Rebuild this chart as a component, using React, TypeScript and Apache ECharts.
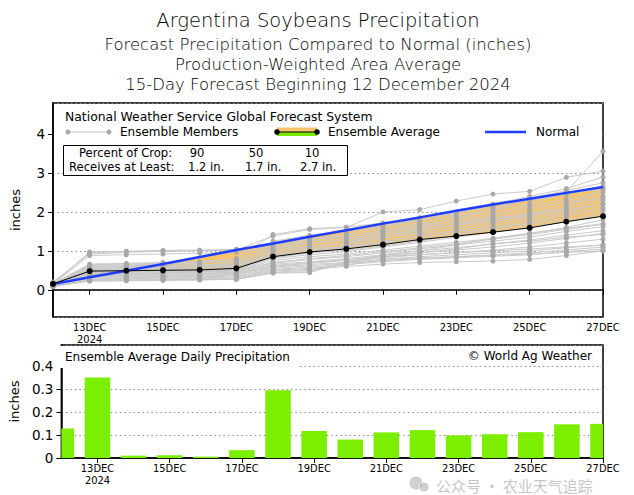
import React, { useEffect, useRef } from "react";
import * as echarts from "echarts";

// ---------- DATA ----------
const days = ["12DEC", "13DEC", "14DEC", "15DEC", "16DEC", "17DEC", "18DEC", "19DEC", "20DEC", "21DEC", "22DEC", "23DEC", "24DEC", "25DEC", "26DEC", "27DEC"];
const yearLabel = "2024";

// cumulative ensemble average (inches)
const ensembleAverage = [0.15, 0.48, 0.49, 0.5, 0.51, 0.55, 0.85, 0.97, 1.05, 1.16, 1.29, 1.38, 1.48, 1.59, 1.75, 1.89];
// cumulative normal (inches)
const normal = [0.15, 0.32, 0.49, 0.66, 0.84, 1.02, 1.19, 1.36, 1.53, 1.7, 1.86, 2.03, 2.19, 2.34, 2.49, 2.64];
// daily ensemble average precipitation (inches)
const dailyPrecip = [0.128, 0.349, 0.01, 0.012, 0.006, 0.034, 0.294, 0.117, 0.08, 0.111, 0.121, 0.098, 0.103, 0.112, 0.146, 0.148];

// ensemble members (cumulative inches)
const m01 = [0.18, 0.95, 0.98, 1.0, 1.01, 1.03, 1.2, 1.3, 1.38, 1.5, 1.62, 1.72, 1.85, 1.95, 2.1, 2.3];
const m02 = [0.2, 0.92, 0.96, 0.99, 1.0, 1.02, 1.38, 1.55, 1.6, 2.0, 2.06, 2.28, 2.46, 2.53, 2.89, 3.05];
const m03 = [0.15, 0.88, 0.9, 0.92, 0.94, 0.96, 1.05, 1.12, 1.2, 1.35, 1.45, 1.6, 1.75, 1.9, 2.1, 2.6];
const m04 = [0.16, 0.66, 0.68, 0.7, 0.72, 0.8, 1.42, 1.57, 1.61, 1.72, 1.85, 1.98, 2.12, 2.3, 2.45, 2.65];
const m05 = [0.14, 0.64, 0.66, 0.68, 0.7, 0.72, 1.1, 1.25, 1.35, 1.55, 1.7, 1.9, 2.05, 2.2, 2.52, 3.56];
const m06 = [0.12, 0.6, 0.62, 0.63, 0.64, 0.66, 1.0, 1.1, 1.2, 1.45, 1.6, 1.85, 2.05, 2.35, 2.55, 2.75];
const m07 = [0.13, 0.58, 0.6, 0.61, 0.62, 0.64, 0.95, 1.05, 1.12, 1.25, 1.38, 1.5, 1.62, 1.78, 1.95, 2.1];
const m08 = [0.15, 0.55, 0.57, 0.58, 0.6, 0.62, 0.9, 1.0, 1.1, 1.22, 1.4, 1.52, 1.7, 1.85, 2.0, 2.2];
const m09 = [0.12, 0.52, 0.53, 0.54, 0.55, 0.58, 0.88, 0.95, 1.02, 1.12, 1.25, 1.4, 1.55, 1.7, 1.8, 1.95];
const m10 = [0.14, 0.5, 0.51, 0.52, 0.53, 0.55, 0.85, 0.98, 1.08, 1.2, 1.32, 1.45, 1.58, 1.72, 1.88, 2.05];
const m11 = [0.11, 0.48, 0.49, 0.5, 0.51, 0.52, 0.8, 0.9, 0.98, 1.1, 1.22, 1.35, 1.48, 1.62, 1.75, 1.9];
const m12 = [0.1, 0.46, 0.47, 0.48, 0.49, 0.5, 0.75, 0.85, 0.92, 1.02, 1.12, 1.22, 1.32, 1.45, 1.58, 1.7];
const m13 = [0.12, 0.44, 0.45, 0.46, 0.47, 0.49, 0.7, 0.8, 0.88, 0.98, 1.08, 1.18, 1.3, 1.42, 1.55, 1.68];
const m14 = [0.13, 0.42, 0.43, 0.44, 0.45, 0.48, 0.68, 0.78, 0.85, 0.95, 1.05, 1.15, 1.25, 1.35, 1.5, 1.62];
const m15 = [0.1, 0.4, 0.41, 0.42, 0.43, 0.45, 0.65, 0.72, 0.8, 0.9, 1.0, 1.08, 1.18, 1.28, 1.4, 1.52];
const m16 = [0.09, 0.38, 0.39, 0.4, 0.41, 0.43, 0.62, 0.7, 0.78, 0.85, 0.95, 1.02, 1.1, 1.2, 1.32, 1.45];
const m17 = [0.11, 0.36, 0.37, 0.38, 0.39, 0.42, 0.6, 0.68, 0.75, 0.82, 0.9, 0.96, 1.02, 1.1, 1.2, 1.3];
const m18 = [0.1, 0.34, 0.35, 0.36, 0.37, 0.4, 0.58, 0.65, 0.7, 0.78, 0.85, 0.9, 0.95, 1.0, 1.08, 1.15];
const m19 = [0.09, 0.32, 0.33, 0.34, 0.35, 0.38, 0.55, 0.62, 0.68, 0.75, 0.8, 0.85, 0.9, 0.95, 1.02, 1.1];
const m20 = [0.08, 0.3, 0.31, 0.32, 0.33, 0.35, 0.52, 0.58, 0.65, 0.72, 0.78, 0.82, 0.86, 0.9, 0.98, 1.05];
const m21 = [0.1, 0.28, 0.29, 0.3, 0.31, 0.33, 0.5, 0.55, 0.63, 0.78, 0.82, 0.85, 0.88, 0.92, 0.96, 1.0];
const m22 = [0.08, 0.26, 0.27, 0.28, 0.29, 0.3, 0.48, 0.52, 0.6, 0.66, 0.7, 0.72, 0.74, 0.78, 0.88, 1.0];
const m23 = [0.09, 0.24, 0.25, 0.26, 0.27, 0.28, 0.45, 0.5, 0.68, 0.85, 0.9, 0.95, 1.0, 1.05, 1.1, 1.15];
const m24 = [0.08, 0.23, 0.24, 0.25, 0.26, 0.27, 0.44, 0.46, 0.7, 0.88, 0.95, 1.05, 1.18, 1.25, 1.35, 1.42];
const m25 = [0.1, 0.22, 0.23, 0.24, 0.25, 0.27, 0.43, 0.44, 0.72, 0.9, 1.0, 1.15, 1.32, 1.45, 1.6, 1.8];
const m26 = [0.15, 0.62, 0.64, 0.66, 0.68, 0.75, 1.25, 1.4, 1.5, 1.65, 1.8, 1.95, 2.2, 2.4, 2.6, 2.9];
const m27 = [0.16, 0.57, 0.59, 0.61, 0.63, 0.68, 1.15, 1.3, 1.42, 1.62, 1.76, 2.0, 2.18, 2.32, 2.48, 2.58];
const m28 = [0.13, 0.53, 0.55, 0.57, 0.59, 0.62, 1.05, 1.2, 1.3, 1.48, 1.66, 1.82, 1.95, 2.15, 2.32, 2.5];
const m29 = [0.12, 0.45, 0.47, 0.49, 0.51, 0.53, 0.92, 1.08, 1.22, 1.4, 1.55, 1.75, 1.9, 2.08, 2.25, 2.4];
const m30 = [0.11, 0.4, 0.42, 0.44, 0.46, 0.5, 0.82, 0.95, 1.15, 1.32, 1.5, 1.68, 1.82, 1.98, 2.2, 2.35];
const m31 = [0.14, 0.97, 0.99, 1.01, 1.02, 1.04, 1.12, 1.2, 1.28, 1.4, 1.52, 1.65, 1.8, 1.92, 2.05, 2.2];
const members = [m01, m02, m03, m04, m05, m06, m07, m08, m09, m10, m11, m12, m13, m14, m15, m16, m17, m18, m19, m20, m21, m22, m23, m24, m25, m26, m27, m28, m29, m30, m31];

const cropPercents = ["90", "50", "10"];
const cropAmounts = ["1.2 in.", "1.7 in.", "2.7 in."];

const titleLines = [
  "Argentina Soybeans Precipitation",
  "Forecast Precipitation Compared to Normal (inches)",
  "Production-Weighted Area Average",
  "15-Day Forecast Beginning 12 December 2024",
];

// ---------- STYLE ----------
const FONT = "DejaVu Sans";
const COND = "DejaVu Sans Condensed";
const ORANGE = "#f6c46e";
const GREEN = "#7bea00";
const BAR_GREEN = "#7cee00";
const BLUE = "#1f3dff";

export default function App() {
  const ref = useRef<HTMLDivElement>(null);

  useEffect(() => {
    if (!ref.current) return;
    const chart = echarts.init(ref.current, null, { renderer: "svg" });

    const base = ensembleAverage.map((v, i) => Math.min(v, normal[i]));
    const deficit = ensembleAverage.map((v, i) => Math.max(normal[i] - v, 0));
    const surplus = ensembleAverage.map((v, i) => Math.max(v - normal[i], 0));

    const xAxisCommon = (gridIndex: number) => ({
      type: "category",
      gridIndex,
      data: days,
      boundaryGap: false,
      axisLine: { show: true, lineStyle: { color: "#000", width: 1.5 } },
      axisTick: {
        show: true,
        interval: (i: number) => i % 2 === 1,
        length: 5,
        lineStyle: { color: "#000", width: 1 },
      },
      axisLabel: {
        interval: (i: number) => i % 2 === 1,
        formatter: (v: string, i: number) => (i === 1 ? v + "\n" + yearLabel : v),
        fontFamily: COND,
        fontSize: 11,
        color: "#000",
        margin: 4,
        lineHeight: 12,
      },
      splitLine: { show: false },
    });

    const memberSeries = members.map((m, i) => ({
      type: "line",
      name: "Member " + (i + 1),
      xAxisIndex: 0,
      yAxisIndex: 0,
      data: m,
      symbol: "circle",
      symbolSize: 5,
      showAllSymbol: true,
      lineStyle: { color: "#c9c9c9", width: 1 },
      itemStyle: { color: "#a8a8a8" },
      z: 3,
      silent: true,
    }));

    const txt = (text: string, x: number, y: number, size: number, align = "left", extra: any = {}) => ({
      type: "text",
      x,
      y,
      z: 10,
      style: {
        text,
        fontFamily: FONT,
        fontSize: size,
        fill: "#000",
        align,
        verticalAlign: "middle",
        ...extra,
      },
    });

    const titleY = [20, 44, 64, 84];
    const titleSize = [19.5, 16.5, 16.5, 16.5];
    const cropX = [197, 256, 312];
    const amountX = [188, 245, 300];
    const row1Y = 153.2;
    const row2Y = 167.2;

    const graphic: any[] = [
      ...titleLines.map((t, i) => txt(t, 318, titleY[i], titleSize[i], "center", { fontWeight: 300 })),
      // legend white backdrop
      { type: "rect", shape: { x: 54, y: 104, width: 548, height: 38 }, style: { fill: "#fff" }, z: 1 },
      txt("National Weather Service Global Forecast System", 65, 116, 12.4),
      { type: "line", shape: { x1: 68, y1: 132, x2: 109, y2: 132 }, style: { stroke: "#bdbdbd", lineWidth: 1 }, z: 10 },
      { type: "circle", shape: { cx: 68, cy: 132, r: 2.5 }, style: { fill: "#a8a8a8" }, z: 10 },
      { type: "circle", shape: { cx: 109, cy: 132, r: 2.5 }, style: { fill: "#a8a8a8" }, z: 10 },
      txt("Ensemble Members", 120, 132, 12),
      { type: "rect", shape: { x: 277, y: 127.5, width: 40, height: 4.5 }, style: { fill: ORANGE }, z: 10 },
      { type: "rect", shape: { x: 277, y: 132, width: 40, height: 4 }, style: { fill: GREEN }, z: 10 },
      { type: "line", shape: { x1: 277, y1: 132, x2: 317, y2: 132 }, style: { stroke: "#000", lineWidth: 1 }, z: 10 },
      { type: "circle", shape: { cx: 277, cy: 132, r: 2.8 }, style: { fill: "#000" }, z: 10 },
      { type: "circle", shape: { cx: 317, cy: 132, r: 2.8 }, style: { fill: "#000" }, z: 10 },
      txt("Ensemble Average", 328, 132, 12),
      { type: "line", shape: { x1: 485, y1: 132, x2: 526, y2: 132 }, style: { stroke: BLUE, lineWidth: 2.5 }, z: 10 },
      txt("Normal", 536, 132, 12),
      // crop box
      { type: "rect", shape: { x: 63.5, y: 145.5, width: 284, height: 30 }, style: { fill: "#fff", stroke: "#000", lineWidth: 1 }, z: 10 },
      txt("Percent of Crop:", 79, row1Y, 11.6),
      txt("Receives at Least:", 69, row2Y, 11.6),
      ...cropPercents.map((p, i) => txt(p, cropX[i], row1Y, 11.6, "center")),
      ...cropAmounts.map((a, i) => txt(a, amountX[i], row2Y, 11.6)),
      // lower panel labels
      { type: "rect", shape: { x: 54, y: 346, width: 244, height: 22 }, style: { fill: "#fff" }, z: 1 },
      txt("Ensemble Average Daily Precipitation", 65, 356.5, 12),
      txt("\u00a9 World Ag Weather", 592, 355.5, 12, "right"),
      // watermark
      { type: "circle", shape: { cx: 416, cy: 483, r: 6.5 }, style: { fill: "rgba(150,150,150,0.45)" }, z: 20 },
      { type: "circle", shape: { cx: 424, cy: 487, r: 5 }, style: { fill: "rgba(150,150,150,0.45)", stroke: "#fff", lineWidth: 1 }, z: 20 },
      txt("公众号 · 农业天气追踪", 436, 485, 15, "left", { fontFamily: "Noto Sans CJK SC", fill: "rgba(140,140,140,0.5)" }),
    ];

    const barData = dailyPrecip.map((v, i) => [i, v]);

    const option: any = {
      animation: false,
      backgroundColor: "#fff",
      grid: [
        { left: 53, top: 103, width: 550, height: 214, show: true, borderColor: "#000", borderWidth: 1.5, containLabel: false },
        { left: 53, top: 345, width: 550, height: 113, show: true, borderColor: "#000", borderWidth: 1.5, containLabel: false },
      ],
      xAxis: [xAxisCommon(0), xAxisCommon(1)],
      yAxis: [
        {
          type: "value",
          gridIndex: 0,
          min: -0.7,
          max: 4.8,
          splitNumber: 5,
          name: "inches",
          nameLocation: "middle",
          nameRotate: 90,
          nameGap: 31,
          nameTextStyle: { fontFamily: FONT, fontSize: 13, color: "#000" },
          axisLine: { show: true, lineStyle: { color: "#000", width: 1.5 } },
          axisTick: { show: true, length: 5, lineStyle: { color: "#000" } },
          axisLabel: {
            showMinLabel: false,
            showMaxLabel: false,
            fontFamily: FONT,
            fontSize: 13.5,
            color: "#000",
            margin: 8,
            formatter: (v: number) => (Math.abs(v - Math.round(v)) < 1e-6 ? String(Math.round(v)) : ""),
          },
          splitLine: { show: true, lineStyle: { color: "#8c8c8c", width: 1, type: [1.5, 3] } },
        },
        {
          type: "value",
          gridIndex: 1,
          min: 0,
          max: 0.49,
          interval: 0.1,
          name: "inches",
          nameLocation: "middle",
          nameRotate: 90,
          nameGap: 31,
          nameTextStyle: { fontFamily: FONT, fontSize: 13, color: "#000" },
          axisLine: { show: true, lineStyle: { color: "#000", width: 1.5 } },
          axisTick: { show: true, length: 5, lineStyle: { color: "#000" } },
          axisLabel: {
            showMaxLabel: false,
            fontFamily: FONT,
            fontSize: 13.5,
            color: "#000",
            margin: 8,
            formatter: (v: number) => (v === 0 ? "0" : v.toFixed(1)),
          },
          splitLine: { show: true, lineStyle: { color: "#8c8c8c", width: 1, type: [1.5, 3] } },
        },
      ],
      series: [
        {
          type: "line",
          name: "band-base",
          xAxisIndex: 0,
          yAxisIndex: 0,
          stack: "band",
          data: base,
          symbol: "none",
          lineStyle: { opacity: 0 },
          silent: true,
          z: 2,
        },
        {
          type: "line",
          name: "Below Normal",
          xAxisIndex: 0,
          yAxisIndex: 0,
          stack: "band",
          data: deficit,
          symbol: "none",
          lineStyle: { opacity: 0 },
          areaStyle: { color: ORANGE, opacity: 1 },
          silent: true,
          z: 2,
        },
        {
          type: "line",
          name: "Above Normal",
          xAxisIndex: 0,
          yAxisIndex: 0,
          stack: "band",
          data: surplus,
          symbol: "none",
          lineStyle: { opacity: 0 },
          areaStyle: { color: GREEN, opacity: 1 },
          silent: true,
          z: 2,
        },
        ...memberSeries,
        {
          type: "line",
          name: "Normal",
          xAxisIndex: 0,
          yAxisIndex: 0,
          data: normal,
          symbol: "none",
          lineStyle: { color: BLUE, width: 2.5 },
          z: 5,
        },
        {
          type: "line",
          name: "Ensemble Average",
          xAxisIndex: 0,
          yAxisIndex: 0,
          data: ensembleAverage,
          symbol: "circle",
          symbolSize: 6,
          showAllSymbol: true,
          lineStyle: { color: "#000", width: 1 },
          itemStyle: { color: "#000" },
          z: 6,
        },
        {
          type: "custom",
          name: "Daily Precipitation",
          xAxisIndex: 1,
          yAxisIndex: 1,
          data: barData,
          encode: { x: 0, y: 1 },
          z: 3,
          renderItem: (params: any, api: any) => {
            const idx = api.value(0);
            const val = api.value(1);
            const top = api.coord([idx, val]);
            const bottom = api.coord([idx, 0]);
            const w = 25.5;
            const cs = params.coordSys;
            const shape = echarts.graphic.clipRectByRect(
              { x: top[0] - w / 2, y: top[1], width: w, height: bottom[1] - top[1] },
              { x: cs.x, y: cs.y, width: cs.width, height: cs.height }
            );
            if (!shape) return null;
            return { type: "rect", shape, style: { fill: BAR_GREEN } };
          },
        },
      ],
      graphic,
    };

    chart.setOption(option);
    return () => chart.dispose();
  }, []);

  return (
    <div
      ref={ref}
      style={{ position: "fixed", left: 0, top: 0, width: 634, height: 495, background: "#fff" }}
    />
  );
}
